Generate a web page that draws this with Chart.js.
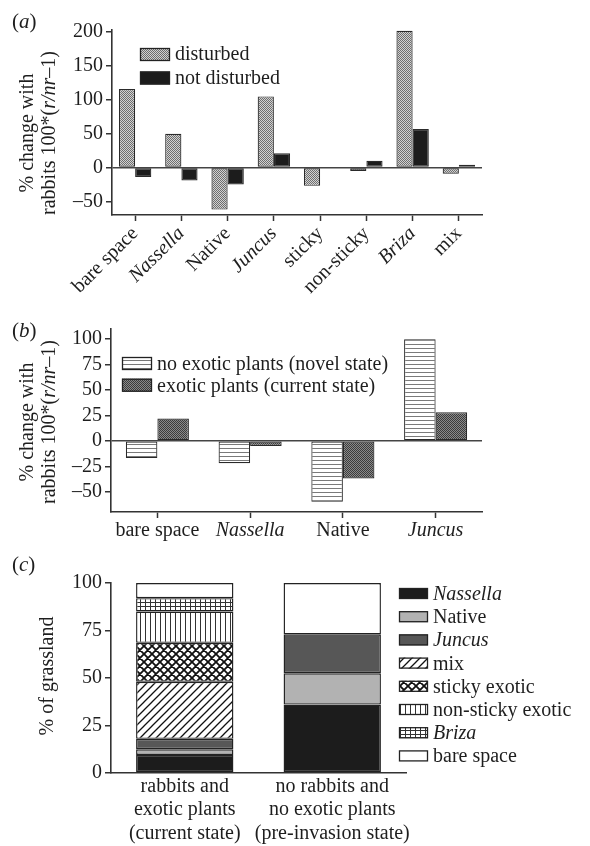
<!DOCTYPE html>
<html>
<head>
<meta charset="utf-8">
<script src="https://cdn.jsdelivr.net/npm/chart.js@4.4.1/dist/chart.umd.min.js"></script>
<style>
  body { margin: 0; background: #fff; width: 590px; height: 846px; position: relative; overflow: hidden;
         font-family: "Liberation Serif", serif; color: #1e1e1e; }
  .panel { position: absolute; left: 0; width: 590px; }
  .tag { position: absolute; left: 12px; font-size: 21px; line-height: 24px; }
</style>
</head>
<body>
<div class="panel" style="top:0;height:298px"><canvas id="chartA"></canvas></div>
<div class="panel" style="top:300px;height:250px"><canvas id="chartB"></canvas></div>
<div class="panel" style="top:550px;height:296px"><canvas id="chartC"></canvas></div>
<div class="tag" style="top:9px">(<i>a</i>)</div>
<div class="tag" style="top:318px">(<i>b</i>)</div>
<div class="tag" style="top:552px">(<i>c</i>)</div>
<script>
// (a) per habitat type
const groupsA = ['bare space', 'Nassella', 'Native', 'Juncus', 'sticky', 'non-sticky', 'Briza', 'mix'];
const disturbed = [116, 50, -62, 105, -27, -5, 202, -9];
const notDisturbed = [-14, -19, -25, 21, 0, 10, 57, 4];
const ticksA = [-50, 0, 50, 100, 150, 200];

// (b)
const groupsB = ['bare space', 'Nassella', 'Native', 'Juncus'];
const noExotic = [-17, -22, -60, 100];
const withExotic = [22, -5, -37, 28];
const ticksB = [-50, -25, 0, 25, 50, 75, 100];

// (c) % of grassland, stacked bottom to top
const statesC = [['rabbits and', 'exotic plants', '(current state)'],
                 ['no rabbits and', 'no exotic plants', '(pre-invasion state)']];
const coverNames = ['Nassella', 'Native', 'Juncus', 'mix', 'sticky exotic', 'non-sticky exotic', 'Briza', 'bare space'];
const coverCurrent = [9.5, 3, 5.5, 30, 20.5, 16.5, 7, 8];
const coverPreInvasion = [36, 16.5, 20.5, 0, 0, 0, 0, 27];
const ticksC = [0, 25, 50, 75, 100];

const italicNames = ['Nassella', 'Juncus', 'Briza'];
const SERIF = '"Liberation Serif", "Times New Roman", serif';
const INK = '#1e1e1e';
const AXIS = '#333';

function pattern(w, h, draw) {
    const c = document.createElement('canvas');
    c.width = w; c.height = h;
    const g = c.getContext('2d');
    draw(g, w, h);
    return g.createPattern(c, 'repeat');
}
// fine checker, like the halftone fills
function checker(dark, light) {
    return pattern(2, 2, g => {
        g.fillStyle = light; g.fillRect(0, 0, 2, 2);
        g.fillStyle = dark; g.fillRect(0, 0, 1, 1); g.fillRect(1, 1, 1, 1);
    });
}
const hStripes = pattern(4, 4, g => {
    g.fillStyle = '#fff'; g.fillRect(0, 0, 4, 4);
    g.fillStyle = '#7a7a7a'; g.fillRect(0, 0, 4, 1);
});
const diag = pattern(8, 8, g => {
    g.fillStyle = '#fff'; g.fillRect(0, 0, 8, 8);
    g.strokeStyle = '#111'; g.lineWidth = 1.3;
    g.beginPath();
    g.moveTo(0, 8); g.lineTo(8, 0);
    g.moveTo(-1, 1); g.lineTo(1, -1);
    g.moveTo(7, 9); g.lineTo(9, 7);
    g.stroke();
});
const crossHatch = pattern(8, 8, g => {
    g.fillStyle = '#fff'; g.fillRect(0, 0, 8, 8);
    g.strokeStyle = '#111'; g.lineWidth = 1.8;
    g.beginPath();
    g.moveTo(0, 8); g.lineTo(8, 0); g.moveTo(0, 0); g.lineTo(8, 8);
    g.moveTo(-1, 1); g.lineTo(1, -1); g.moveTo(7, 9); g.lineTo(9, 7);
    g.moveTo(-1, 7); g.lineTo(1, 9); g.moveTo(7, -1); g.lineTo(9, 1);
    g.stroke();
});
const vLines = pattern(5, 5, g => {
    g.fillStyle = '#fff'; g.fillRect(0, 0, 5, 5);
    g.fillStyle = '#333'; g.fillRect(0, 0, 1, 5);
});
const gridFill = pattern(5, 4, g => {
    g.fillStyle = '#fff'; g.fillRect(0, 0, 5, 4);
    g.fillStyle = '#333'; g.fillRect(0, 0, 1, 4); g.fillRect(0, 0, 5, 1);
});
const coverFills = ['#1c1c1c', '#b2b2b2', '#575757', diag, crossHatch, vLines, gridFill, '#ffffff'];

// legend drawn inside the panel, one row per dataset
const boxLegend = {
    id: 'boxLegend',
    afterDraw(chart, args, o) {
        const ctx = chart.ctx;
        ctx.save();
        chart.data.datasets.forEach((ds, i) => {
            const y = o.y + i * o.step;
            ctx.fillStyle = ds.backgroundColor;
            ctx.fillRect(o.x, y, o.w, o.h);
            ctx.lineWidth = 1.3;
            ctx.strokeStyle = '#222';
            ctx.strokeRect(o.x + 0.5, y + 0.5, o.w - 1, o.h - 1);
            ctx.font = (italicNames.includes(ds.label) ? 'italic ' : '') + '20px ' + SERIF;
            ctx.fillStyle = INK;
            ctx.textBaseline = 'alphabetic';
            ctx.fillText(ds.label, o.x + o.w + o.gap, y + o.h + o.dy);
        });
        ctx.restore();
    }
};

// rotated axis title with mixed italic runs
const richTitle = {
    id: 'richTitle',
    afterDraw(chart, args, o) {
        const ctx = chart.ctx;
        ctx.save();
        ctx.fillStyle = INK;
        ctx.textBaseline = 'middle';
        o.lines.forEach((segs, k) => {
            const fonts = segs.map(s => (s[1] ? 'italic ' : '') + '20px ' + SERIF);
            const widths = segs.map((s, j) => { ctx.font = fonts[j]; return ctx.measureText(s[0]).width; });
            const total = widths.reduce((a, b) => a + b, 0);
            ctx.save();
            ctx.translate(o.xs[k], o.cy);
            ctx.rotate(-Math.PI / 2);
            let x = -total / 2;
            segs.forEach((s, j) => { ctx.font = fonts[j]; ctx.fillText(s[0], x, 0); x += widths[j]; });
            ctx.restore();
        });
        ctx.restore();
    }
};

const pctTitle = [[['% change with', false]], [['rabbits 100*(', false], ['r/nr', true], ['–1)', false]]];
const tickFont = { family: SERIF, size: 20 };
const dash = v => String(v).replace('-', '–');

function yScale(min, max, ticks, width, zeroLine) {
    return {
        min, max,
        afterBuildTicks: s => { s.ticks = ticks.map(v => ({ value: v })); },
        afterFit: s => { s.width = width; },
        border: { color: AXIS, width: 1.6 },
        grid: {
            drawOnChartArea: zeroLine,
            color: c => (c.tick && c.tick.value === 0) ? '#444' : 'rgba(0,0,0,0)',
            lineWidth: 1.5,
            tickLength: 6, tickColor: AXIS, tickWidth: 1.5
        },
        ticks: { font: tickFont, color: INK, padding: 3, callback: dash }
    };
}

const common = {
    responsive: true,
    maintainAspectRatio: false,
    animation: false,
    events: []
};

new Chart(document.getElementById('chartA'), {
    type: 'bar',
    data: {
        labels: groupsA,
        datasets: [
            { label: 'disturbed', data: disturbed, backgroundColor: checker('#6e6e6e', '#d2d2d2') },
            { label: 'not disturbed', data: notDisturbed, backgroundColor: '#1c1c1c' }
        ].map(d => Object.assign(d, { borderColor: '#2a2a2a', borderWidth: 1.2, borderSkipped: false,
                                       categoryPercentage: 0.7, barPercentage: 1 }))
    },
    options: Object.assign({}, common, {
        layout: { padding: { left: 0, top: 30, right: 108, bottom: 0 } },
        scales: {
            x: {
                offset: true,
                afterFit: s => { s.height = 83; },
                border: { color: AXIS, width: 1.6 },
                grid: { offset: false, drawOnChartArea: false, tickLength: 6, tickColor: AXIS, tickWidth: 1.5 },
                ticks: {
                    autoSkip: false, minRotation: 45, maxRotation: 45, padding: 1, color: INK,
                    font: c => ({ family: SERIF, size: 20, style: italicNames.includes(groupsA[c.index]) ? 'italic' : 'normal' })
                }
            },
            y: yScale(-70, 203, ticksA, 112, true)
        },
        plugins: {
            legend: { display: false },
            tooltip: { enabled: false },
            boxLegend: { x: 140, y: 48, w: 30, h: 13, step: 23.5, gap: 5, dy: -1 },
            richTitle: { lines: pctTitle, xs: [28, 50], cy: 133 }
        }
    }),
    plugins: [boxLegend, richTitle]
});

new Chart(document.getElementById('chartB'), {
    type: 'bar',
    data: {
        labels: groupsB,
        datasets: [
            { label: 'no exotic plants (novel state)', data: noExotic, backgroundColor: hStripes },
            { label: 'exotic plants (current state)', data: withExotic, backgroundColor: checker('#3c3c3c', '#8a8a8a') }
        ].map(d => Object.assign(d, { borderColor: '#2a2a2a', borderWidth: 1.2, borderSkipped: false,
                                       categoryPercentage: 0.68, barPercentage: 1 }))
    },
    options: Object.assign({}, common, {
        layout: { padding: { left: 0, top: 29, right: 108, bottom: 0 } },
        scales: {
            x: {
                offset: true,
                afterFit: s => { s.height = 38; },
                border: { color: AXIS, width: 1.6 },
                grid: { offset: false, drawOnChartArea: false, tickLength: 6, tickColor: AXIS, tickWidth: 1.5 },
                ticks: {
                    autoSkip: false, maxRotation: 0, padding: 1, color: INK,
                    font: c => ({ family: SERIF, size: 20, style: italicNames.includes(groupsB[c.index]) ? 'italic' : 'normal' })
                }
            },
            y: yScale(-70, 110, ticksB, 111, true)
        },
        plugins: {
            legend: { display: false },
            tooltip: { enabled: false },
            boxLegend: { x: 122, y: 57, w: 30, h: 13, step: 21.7, gap: 5, dy: 0 },
            richTitle: { lines: pctTitle, xs: [28, 50], cy: 122 }
        }
    }),
    plugins: [boxLegend, richTitle]
});

new Chart(document.getElementById('chartC'), {
    type: 'bar',
    data: {
        labels: statesC,
        datasets: coverNames.map((name, i) => ({
            label: name,
            data: [coverCurrent[i], coverPreInvasion[i]],
            backgroundColor: coverFills[i],
            borderColor: '#222', borderWidth: 1.4, borderSkipped: false,
            categoryPercentage: 0.66, barPercentage: 1
        }))
    },
    options: Object.assign({}, common, {
        layout: { padding: { left: 0, top: 33, right: 184, bottom: 0 } },
        scales: {
            x: {
                stacked: true,
                offset: true,
                afterFit: s => { s.height = 73; },
                border: { color: AXIS, width: 1.6 },
                grid: { display: false, drawTicks: false },
                ticks: { autoSkip: false, maxRotation: 0, padding: 2, color: INK,
                         font: { family: SERIF, size: 20, lineHeight: 1.17 } }
            },
            y: Object.assign(yScale(0, 100, ticksC, 111, false), { stacked: true })
        },
        plugins: {
            legend: { display: false },
            tooltip: { enabled: false },
            boxLegend: { x: 399, y: 38, w: 29, h: 11, step: 23.2, gap: 5, dy: 1 },
            richTitle: { lines: [[['% of grassland', false]]], xs: [48], cy: 126 }
        }
    }),
    plugins: [boxLegend, richTitle]
});
</script>
</body>
</html>
